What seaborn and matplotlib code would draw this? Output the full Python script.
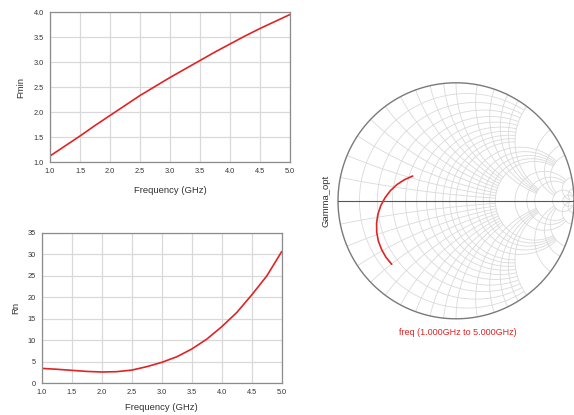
import numpy as np
import matplotlib.pyplot as plt
import seaborn as sns

# values
freq = [1.0, 1.25, 1.5, 1.75, 2.0, 2.25, 2.5, 2.75, 3.0, 3.25, 3.5, 3.75, 4.0, 4.25, 4.5, 4.75, 5.0]
fmin = [1.12, 1.32, 1.52, 1.73, 1.93, 2.13, 2.33, 2.51, 2.69, 2.86, 3.03, 3.20, 3.36, 3.52, 3.67, 3.81, 3.95]
rn = [3.4, 3.2, 2.95, 2.7, 2.56, 2.64, 3.0, 3.8, 4.8, 6.1, 7.9, 10.2, 13.1, 16.4, 20.5, 24.9, 30.6]

gamma_re = [-0.367, -0.437, -0.500, -0.556, -0.602, -0.638, -0.662,
            -0.673, -0.672, -0.658, -0.631, -0.594, -0.545]
gamma_im = [0.210, 0.179, 0.138, 0.086, 0.025, -0.042, -0.115,
            -0.190, -0.266, -0.341, -0.412, -0.478, -0.538]

red = "#e02424"
txt = "#333333"

sns.set_style("white")
plt.rcParams['font.family'] = ['Liberation Sans', 'DejaVu Sans']

fig = plt.figure(figsize=(5.74, 4.15), dpi=100)


def style_rect(ax, xt, yt, xminor, yminor, xlpad):
    ax.set_xlim(1.0, 5.0)
    ax.set_xticks(xt)
    ax.set_yticks(yt)
    ax.set_xticklabels(["%.1f" % v for v in xt])
    ax.set_xticks(xminor, minor=True)
    if yminor is not None:
        ax.set_yticks(yminor, minor=True)
    ax.grid(True, which="major", color="#d9d9d9", lw=0.9)
    for s in ax.spines.values():
        s.set_color("#8c8c8c")
        s.set_linewidth(0.9)
    ax.tick_params(which="major", direction="out", length=3, width=0.7,
                   color="#8c8c8c", labelsize=5.3, labelcolor=txt, pad=1.5)
    ax.tick_params(which="minor", direction="in", length=3, width=0.6,
                   color="#8c8c8c")
    ax.set_xlabel("Frequency (GHz)", fontsize=6.8, color=txt, labelpad=xlpad)


# Fmin
ax1 = fig.add_axes([50 / 574, 1 - 162 / 415, 240 / 574, 150 / 415])
sns.lineplot(x=freq, y=fmin, ax=ax1, color=red, lw=1.2)
ax1.set_ylim(1.0, 4.0)
style_rect(ax1, np.arange(1.0, 5.01, 0.5), np.arange(1.0, 4.01, 0.5),
           np.arange(1.0, 5.01, 0.1), np.arange(1.0, 4.01, 0.1), 8)
ax1.set_yticklabels(["%.1f" % v for v in np.arange(1.0, 4.01, 0.5)])
ax1.set_ylabel("Fmin", fontsize=6.8, color=txt, labelpad=6)

# Rn
ax2 = fig.add_axes([41.7 / 574, 1 - 383 / 415, 240 / 574, 150.3 / 415])
sns.lineplot(x=freq, y=rn, ax=ax2, color=red, lw=1.2)
ax2.set_ylim(0, 35)
style_rect(ax2, np.arange(1.0, 5.01, 0.5), np.arange(0, 36, 5),
           np.arange(1.0, 5.01, 0.1), None, 5)
ax2.set_ylabel("Rn", fontsize=6.8, color=txt, labelpad=5)

# Smith chart
cx, cy, R = 456, 200.8, 118
m = 1.03
ax3 = fig.add_axes([(cx - m * R) / 574, 1 - (cy + m * R) / 415,
                    2 * m * R / 574, 2 * m * R / 415])
ax3.set_xlim(-m, m)
ax3.set_ylim(-m, m)
ax3.set_aspect("equal")
ax3.axis("off")

gcol = "#dadada"
r_groups = [(np.round(np.arange(0.1, 1.01, 0.1), 2), 2.0),
            ([1.2, 1.4, 1.6, 1.8, 2.0], 5.0),
            ([3.0, 4.0, 5.0], 10.0),
            ([10.0, 20.0], 50.0)]
for rs, xmax in r_groups:
    xx = np.tan(np.linspace(-np.arctan(xmax), np.arctan(xmax), 400))
    for r in rs:
        g = (r + 1j * xx - 1) / (r + 1j * xx + 1)
        ax3.plot(g.real, g.imag, color=gcol, lw=0.6, zorder=1)

x_groups = [(np.round(np.arange(0.1, 1.01, 0.1), 2), 2.0),
            ([1.2, 1.4, 1.6, 1.8, 2.0], 5.0),
            ([3.0, 4.0, 5.0], 10.0),
            ([10.0, 20.0], 50.0)]
for xs, rmax in x_groups:
    rr = np.tan(np.linspace(0, np.arctan(rmax), 300))
    for x in xs:
        for sgn in (1, -1):
            g = (rr + 1j * sgn * x - 1) / (rr + 1j * sgn * x + 1)
            ax3.plot(g.real, g.imag, color=gcol, lw=0.6, zorder=1)

t = np.linspace(0, 2 * np.pi, 500)
ax3.plot(np.cos(t), np.sin(t), color="#7a7a7a", lw=1.0, zorder=2)
ax3.plot([-1, 1], [0, 0], color="#555555", lw=0.8, zorder=2)

sns.lineplot(x=gamma_re, y=gamma_im, ax=ax3, color=red, lw=1.2, sort=False, zorder=3)
ax3.set_xlabel("")
ax3.set_ylabel("")

fig.text(326 / 574, 1 - 201 / 415, "Gamma_opt", rotation=90, fontsize=6.8,
         color=txt, ha="center", va="center")
fig.text(458 / 574, 1 - 332.5 / 415, "freq (1.000GHz to 5.000GHz)", fontsize=6.5,
         color=red, ha="center", va="center")

fig.savefig("out.png", dpi=100)
